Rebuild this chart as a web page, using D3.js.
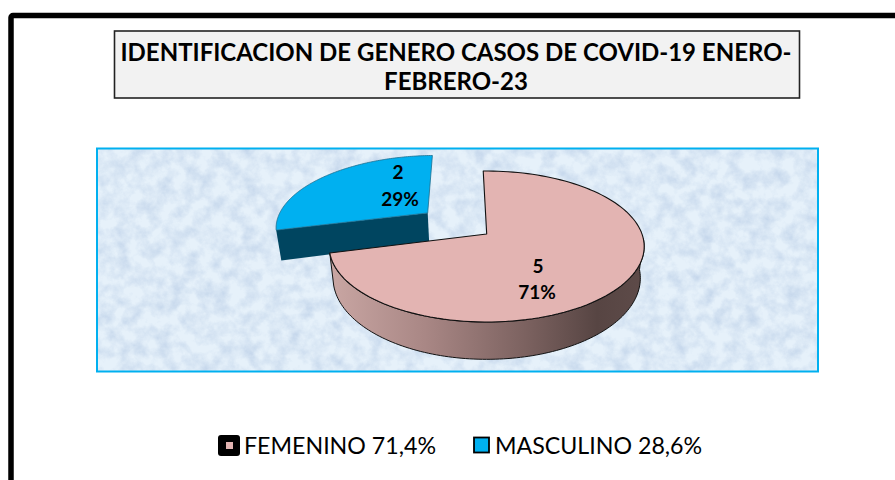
<!DOCTYPE html>
<html><head><meta charset="utf-8">
<script src="https://cdn.jsdelivr.net/npm/d3@7"></script>
<style>html,body{margin:0;padding:0;background:#fff;overflow:hidden}svg{display:block}text{font-family:Lato,"Open Sans",sans-serif}</style>
</head><body><svg id="c" width="895" height="480"></svg>
<script>
const categories = ["FEMENINO", "MASCULINO"];
const values = [5, 2];
const percentLabels = ["71%", "29%"];
const legendLabels = ["FEMENINO 71,4%", "MASCULINO 28,6%"];
const sliceColors = ["#e3b4b2", "#00b0f0"];
const titleLines = ["IDENTIFICACION DE GENERO CASOS DE COVID-19 ENERO-", "FEBRERO-23"];
const explode = [0, 0.5];

const svg = d3.select("#c");
const defs = svg.append("defs");

// frame (runs off the right and bottom of the picture)
svg.append("rect").attr("x",11).attr("y",15.5).attr("width",1000).attr("height",600)
  .attr("fill","#fff").attr("stroke","#000").attr("stroke-width",5.5).attr("rx",2);

// title
svg.append("rect").attr("x",114.5).attr("y",31).attr("width",685).attr("height",67)
  .attr("fill","#f2f2f2").attr("stroke","#222").attr("stroke-width",1.6);
svg.append("g").selectAll("text").data(titleLines).join("text")
  .attr("x",456).attr("y",(d,i)=>61+i*29).attr("text-anchor","middle")
  .attr("font-size",24).attr("font-weight",700).attr("fill","#000").text(d=>d);

// plot area texture
const f = defs.append("filter").attr("id","tex").attr("x",0).attr("y",0).attr("width","100%").attr("height","100%")
  .attr("color-interpolation-filters","sRGB");
f.append("feTurbulence").attr("type","fractalNoise").attr("baseFrequency","0.07").attr("numOctaves",5).attr("seed",7);
f.append("feColorMatrix").attr("type","matrix").attr("values",
  "0 0 0 0 0.72  0 0 0 0 0.80  0 0 0 0 0.90  1.3 0 0 0 -0.45");
svg.append("rect").attr("x",97).attr("y",148.5).attr("width",721).attr("height",223).attr("fill","#e6f1fa");
svg.append("rect").attr("x",97).attr("y",148.5).attr("width",721).attr("height",223).attr("fill","#fff").attr("filter","url(#tex)");
svg.append("rect").attr("x",97).attr("y",148.5).attr("width",721).attr("height",223)
  .attr("fill","none").attr("stroke","#00b0f0").attr("stroke-width",2);

// pie geometry through a perspective projection of the unit disk
const startDeg = -1.5;
const pie = d3.pie().sort(null).value(d=>d)
  .startAngle(startDeg*Math.PI/180).endAngle((startDeg+360)*Math.PI/180)(values);
const cx = 486.7, K = 0.166;
const topPlane = {R:155.3, H:73.4, cy:234};
const lowPlane = {R:151.5, H:79, cy:264.6};
const proj = (pl,u,v) => [cx + pl.R*u/(1+K*v), pl.cy - pl.H*v/(1+K*v)];
const pt = (pl,off,a,r=1) => proj(pl, off[0]+r*Math.sin(a), off[1]+r*Math.cos(a));
const line = d3.line();
const sweep = (pl,off,a0,a1) => d3.range(0,121).map(i=>pt(pl,off,a0+(a1-a0)*i/120));
const offs = pie.map(s=>{const m=(s.startAngle+s.endAngle)/2, e=explode[s.index];return [e*Math.sin(m),e*Math.cos(m)];});

// blue slice: cut face, then top
{
  const s=pie[1], o=offs[1];
  const a=pt(topPlane,o,s.startAngle), c=pt(topPlane,o,0,0), cL=pt(lowPlane,o,0,0), aL=pt(lowPlane,o,s.startAngle);
  svg.append("path").attr("d",line([a,c,cL,aL])+"Z").attr("fill","#004560");
  svg.append("path").attr("d",line([c,...sweep(topPlane,o,s.startAngle,s.endAngle)])+"Z")
    .attr("fill",sliceColors[1]).attr("stroke","#1a6f90").attr("stroke-width",.8);
}
// pink slice: wall with gradient, then top
{
  const s=pie[0], o=offs[0];
  const g=defs.append("linearGradient").attr("id","wall").attr("gradientUnits","userSpaceOnUse")
    .attr("x1",331).attr("x2",644).attr("y1",0).attr("y2",0);
  [[0,"#c9a6a3"],[0.3,"#a98785"],[0.62,"#7c6260"],[0.85,"#574543"],[1,"#5e4b49"]].forEach(d=>
    g.append("stop").attr("offset",d[0]).attr("stop-color",d[1]));
  const a0=Math.PI*0.52, a1=s.endAngle;
  const wall=[...sweep(topPlane,o,a0,a1),...sweep(lowPlane,o,a0,a1).reverse()];
  svg.append("path").attr("d",line(wall)+"Z").attr("fill","url(#wall)").attr("stroke","#111").attr("stroke-width",1);
  svg.append("path").attr("d",line([pt(topPlane,o,0,0),...sweep(topPlane,o,s.startAngle,s.endAngle)])+"Z")
    .attr("fill",sliceColors[0]).attr("stroke","#111").attr("stroke-width",1.1).attr("stroke-linejoin","round");
}

// data labels
svg.append("g").selectAll("g").data(values).join("g").each(function(d,i){
  const g=d3.select(this);
  g.append("text").attr("x",i?398:538).attr("y",i?179:273).attr("text-anchor","middle")
   .attr("font-size",19).attr("font-weight",700).attr("fill","#000").text(d);
  g.append("text").attr("x",i?400:537).attr("y",i?206:299).attr("text-anchor","middle")
   .attr("font-size",19).attr("font-weight",700).attr("fill","#000").text(percentLabels[i]);
});

// legend
svg.append("rect").attr("x",218).attr("y",435).attr("width",22).attr("height",21).attr("rx",3).attr("fill","#000");
svg.append("rect").attr("x",226).attr("y",442).attr("width",7).attr("height",7).attr("fill",sliceColors[0]);
svg.append("rect").attr("x",474).attr("y",437.5).attr("width",15).attr("height",15).attr("fill",sliceColors[1]).attr("stroke","#000").attr("stroke-width",1.8);
svg.append("g").selectAll("text").data(legendLabels).join("text")
  .attr("x",(d,i)=>i?495:244).attr("y",454).attr("font-size",23.2).attr("fill","#000").text(d=>d);
</script></body></html>
